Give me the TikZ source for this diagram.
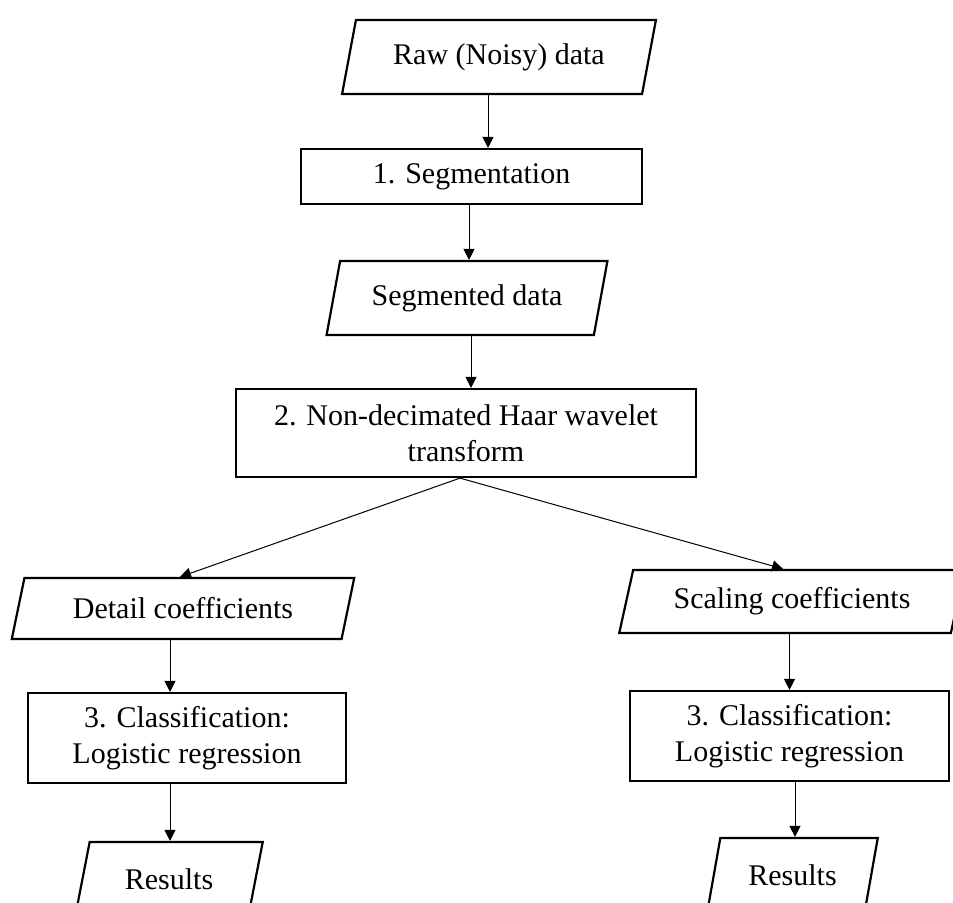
\documentclass[tikz,border=0pt]{standalone}
\usepackage{fontspec}
\setmainfont{Liberation Serif}
\usetikzlibrary{shapes.geometric,arrows.meta}

\begin{document}
\begin{tikzpicture}[x=0.5pt,y=-0.5pt,
	font=\fontsize{15}{18}\selectfont,
	proc/.style={rectangle, draw=black, line width=1.1pt, align=center},
	io/.style={trapezium, trapezium left angle=75, trapezium right angle=105,
		trapezium stretches=true, draw=black, line width=1.1pt},
	arr/.style={-{Triangle[length=5.5pt,width=5.5pt]}, line width=0.5pt}]
	\useasboundingbox (0,0) rectangle (953,902);
	\clip (0,0) rectangle (953,902);
	% main chain
	\node (raw)    at (499,57)      [io, minimum width=157pt, minimum height=37pt]		{Raw (Noisy) data};
	\node (seg)    at (471.5,176.5) [proc, minimum width=170.5pt, minimum height=27.5pt]	{1. Segmentation};
	\node (segd)   at (467,298)     [io, minimum width=140.5pt, minimum height=37pt]	{Segmented data};
	\node (haar)   at (466,433)     [proc, minimum width=230pt, minimum height=44pt]	{2. Non-decimated Haar wavelet\\transform};
	% two branches
	\node (detail) at (183,608.5)   [io, minimum width=171.5pt, minimum height=30.5pt]	{Detail coefficients};
	\node (scal)   at (792,601.5)   [io, minimum width=173pt, minimum height=31.5pt]	{Scaling coefficients};
	\node (clsL)   at (187,738)     [proc, minimum width=159pt, minimum height=45pt]	{3. Classification:\\Logistic regression};
	\node (clsR)   at (789.5,736)   [proc, minimum width=159.5pt, minimum height=45pt]	{3. Classification:\\Logistic regression};
	\node (resL)   at (169,879)     [io, minimum width=94pt, minimum height=37pt]		{Results};
	\node (resR)   at (792.5,875)   [io, minimum width=85.5pt, minimum height=37pt]		{Results};
	% connectors
	\draw[arr] ([xshift=-5.5pt]raw.south) -- ([xshift=-5.5pt]raw.south |- seg.north);
	\draw[arr] ([xshift=-1.25pt]seg.south) -- ([xshift=-1.25pt]seg.south |- segd.north);
	\draw[arr] ([xshift=2pt]segd.south) -- ([xshift=2pt]segd.south |- haar.north);
	\draw[arr] ([xshift=-3pt]haar.south) -- ([xshift=-1.5pt]detail.north);
	\draw[arr] ([xshift=-3pt]haar.south) -- ([xshift=-4.5pt]scal.north);
	\draw[arr] ([xshift=-6.5pt]detail.south) -- ([xshift=-6.5pt]detail.south |- clsL.north);
	\draw[arr] ([xshift=-8.5pt]clsL.south) -- ([xshift=-8.5pt]clsL.south |- resL.north);
	\draw[arr] (scal.south -| clsR.north) -- (clsR.north);
	\draw[arr] ([xshift=2.75pt]clsR.south) -- ([xshift=2.75pt]clsR.south |- resR.north);
\end{tikzpicture}
\end{document}
